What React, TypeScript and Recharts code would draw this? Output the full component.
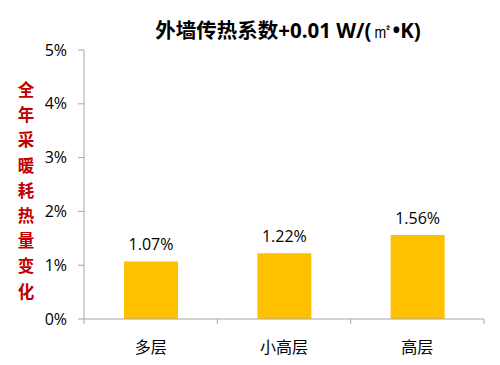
import React from 'react';
import { BarChart, Bar, XAxis, YAxis, LabelList } from 'recharts';

const categories = ['多层', '小高层', '高层'];
const values = [1.07, 1.22, 1.56];
const yTicks = [0, 1, 2, 3, 4, 5];
const titleMain = '外墙传热系数+0.01 W/(';
const titleUnit = '㎡';
const titleEnd = '•K)';
const yLabel = '全年采暖耗热量变化';

const data = categories.map((name, i) => ({ pos: i + 0.5, name, value: values[i] }));
const xTicks = [0, 0.5, 1, 1.5, 2, 2.5, 3];

const FONT = "'Open Sans', 'Noto Sans CJK SC', sans-serif";
const AXIS = '#A6A6A6';

const XTick = (props: any) => {
  const { x, y, payload } = props;
  const v = payload.value;
  if (Number.isInteger(v)) {
    return <line x1={x} y1={y - 8} x2={x} y2={y - 3} stroke={AXIS} strokeWidth={1} />;
  }
  const idx = Math.floor(v);
  return (
    <text x={x} y={y + 26} textAnchor="middle" fontSize={16} fill="#000" fontFamily={FONT}>
      {categories[idx]}
    </text>
  );
};

const YLabel = (props: any) => {
  const vb = props.viewBox || { x: 0, y: 50, width: 84, height: 269 };
  const cx = vb.x + 26;
  const startY = vb.y + 46;
  return (
    <text textAnchor="middle" fontSize={16.5} fontWeight="bold" fill="#C00000" fontFamily={FONT}>
      {yLabel.split('').map((ch, i) => (
        <tspan key={i} x={cx} y={startY + i * 25.2}>
          {ch}
        </tspan>
      ))}
    </text>
  );
};

export default function App() {
  return (
    <div style={{ position: 'absolute', left: 0, top: 0, width: 500, height: 365, background: '#fff', fontFamily: FONT }}>
      <div
        style={{
          position: 'absolute',
          left: 0,
          width: 576,
          top: 15,
          textAlign: 'center',
          fontSize: 20.5,
          fontWeight: 'bold',
          color: '#000',
          lineHeight: '30px',
          whiteSpace: 'nowrap',
        }}
      >
        {titleMain}
        <span style={{ fontFamily: "'Liberation Serif', 'DejaVu Serif', serif", fontWeight: 'normal' }}>{titleUnit}</span>
        {titleEnd}
      </div>
      <BarChart width={500} height={365} data={data} margin={{ top: 50, right: 16, bottom: 16, left: 0 }}>
        <XAxis
          dataKey="pos"
          type="number"
          domain={[0, 3]}
          ticks={xTicks}
          interval={0}
          tickLine={false}
          axisLine={{ stroke: AXIS }}
          tick={<XTick />}
          height={30}
        />
        <YAxis
          type="number"
          domain={[0, 5]}
          ticks={yTicks}
          width={84}
          tickFormatter={(v: number) => `${v}%`}
          axisLine={{ stroke: AXIS }}
          tickLine={{ stroke: AXIS }}
          tickSize={6}
          tickMargin={11}
          tick={{ fontSize: 16, fill: '#000', fontFamily: FONT }}
          label={<YLabel />}
        />
        <Bar dataKey="value" fill="#FFC000" barSize={54} isAnimationActive={false}>
          <LabelList
            dataKey="value"
            position="top"
            offset={11}
            formatter={(v: any) => `${Number(v).toFixed(2)}%`}
            style={{ fontSize: 16, fill: '#000', fontFamily: FONT }}
          />
        </Bar>
      </BarChart>
    </div>
  );
}
